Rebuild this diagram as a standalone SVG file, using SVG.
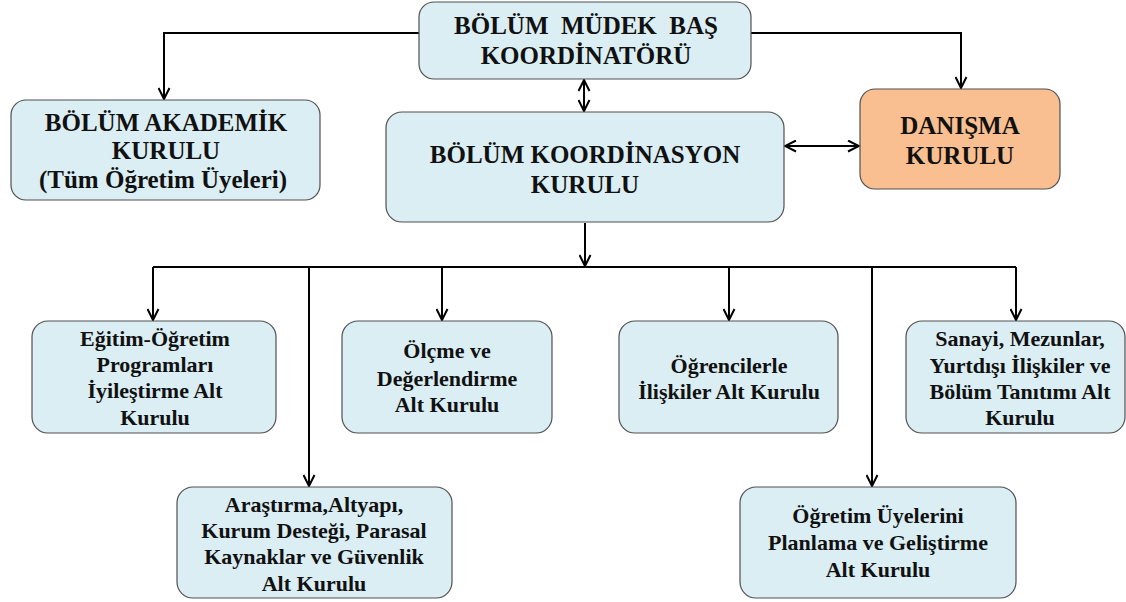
<svg xmlns="http://www.w3.org/2000/svg" width="1126" height="602" viewBox="0 0 1126 602">
<defs>
<marker id="arr" viewBox="0 0 13 13" refX="12" refY="6.5" markerWidth="13" markerHeight="13" orient="auto-start-reverse" markerUnits="userSpaceOnUse">
<path d="M1,1 L12,6.5 L1,12" fill="none" stroke="#000" stroke-width="2"/>
</marker>
<style>
text{font-family:Liberation Serif,DejaVu Serif,Noto Serif,serif}
.box{fill:#DBEEF4;stroke:#505050;stroke-width:1.2}
.orange{fill:#F9BF90;stroke:#505050;stroke-width:1.2}
.big{font-weight:bold;font-size:25px;fill:#111;text-anchor:middle}
.small{font-weight:bold;font-size:22px;fill:#111;text-anchor:middle}
.ln{fill:none;stroke:#000;stroke-width:2}
.a{marker-end:url(#arr)}
.d{marker-start:url(#arr);marker-end:url(#arr)}
</style>
</defs>
<rect width="1126" height="602" fill="#fff"/>
<g id="connectors">
<path class="ln a" d="M419,33 H164 V99"/>
<path class="ln a" d="M751,33 H961 V88"/>
<path class="ln d" d="M584,80 V111"/>
<path class="ln d" d="M785,146 H859"/>
<path class="ln a" d="M585,223 V266"/>
<path class="ln" d="M153,267 H1016"/>
<path class="ln a" d="M153,267 V320"/>
<path class="ln a" d="M309,267 V486"/>
<path class="ln a" d="M442,267 V320"/>
<path class="ln a" d="M729,267 V320"/>
<path class="ln a" d="M872,267 V486"/>
<path class="ln a" d="M1016,267 V320"/>
</g>
<g id="bas-koordinator">
<rect class="box" x="419" y="2" width="332" height="77" rx="15"/>
<text class="big" x="586" y="34" xml:space="preserve">BÖLÜM  MÜDEK  BAŞ</text>
<text class="big" x="586" y="64">KOORDİNATÖRÜ</text>
</g>
<g id="akademik-kurul">
<rect class="box" x="11" y="100" width="309" height="100" rx="15"/>
<text class="big" x="166" y="131">BÖLÜM AKADEMİK</text>
<text class="big" x="166" y="159">KURULU</text>
<text class="big" x="163" y="188">(Tüm Öğretim Üyeleri)</text>
</g>
<g id="koordinasyon-kurulu">
<rect class="box" x="386" y="112" width="398" height="110" rx="16"/>
<text class="big" x="585" y="163">BÖLÜM KOORDİNASYON</text>
<text class="big" x="585" y="193">KURULU</text>
</g>
<g id="danisma-kurulu">
<rect class="orange" x="860" y="89" width="200" height="100" rx="15"/>
<text class="big" x="960" y="134">DANIŞMA</text>
<text class="big" x="960" y="164">KURULU</text>
</g>
<g id="egitim">
<rect class="box" x="32" y="321" width="244" height="112" rx="16"/>
<text class="small" x="155" y="346">Eğitim-Öğretim</text>
<text class="small" x="155" y="372">Programları</text>
<text class="small" x="155" y="398">İyileştirme Alt</text>
<text class="small" x="155" y="425">Kurulu</text>
</g>
<g id="olcme">
<rect class="box" x="342" y="321" width="210" height="112" rx="16"/>
<text class="small" x="447" y="358">Ölçme ve</text>
<text class="small" x="447" y="386">Değerlendirme</text>
<text class="small" x="447" y="412">Alt Kurulu</text>
</g>
<g id="ogrenciler">
<rect class="box" x="619" y="321" width="219" height="112" rx="16"/>
<text class="small" x="729" y="373">Öğrencilerle</text>
<text class="small" x="729" y="399">İlişkiler Alt Kurulu</text>
</g>
<g id="sanayi">
<rect class="box" x="906" y="321" width="219" height="112" rx="16"/>
<text class="small" x="1020" y="346">Sanayi, Mezunlar,</text>
<text class="small" x="1020" y="373">Yurtdışı İlişkiler ve</text>
<text class="small" x="1020" y="399">Bölüm Tanıtımı Alt</text>
<text class="small" x="1020" y="425">Kurulu</text>
</g>
<g id="arastirma">
<rect class="box" x="177" y="487" width="275" height="111" rx="16"/>
<text class="small" x="314" y="512">Araştırma,Altyapı,</text>
<text class="small" x="314" y="538">Kurum Desteği, Parasal</text>
<text class="small" x="314" y="564">Kaynaklar ve Güvenlik</text>
<text class="small" x="314" y="591">Alt Kurulu</text>
</g>
<g id="ogretim-uyeleri">
<rect class="box" x="740" y="487" width="276" height="111" rx="16"/>
<text class="small" x="878" y="523">Öğretim Üyelerini</text>
<text class="small" x="878" y="550">Planlama ve Geliştirme</text>
<text class="small" x="878" y="577">Alt Kurulu</text>
</g>
</svg>
